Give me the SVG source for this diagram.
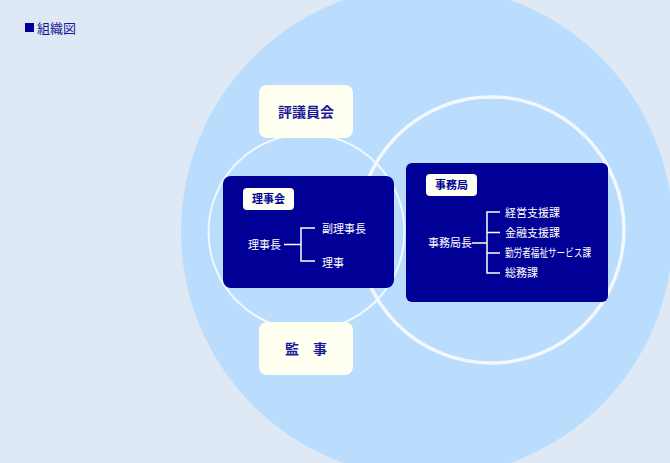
<svg xmlns="http://www.w3.org/2000/svg" width="670" height="463" viewBox="0 0 670 463">
<style>
  text { font-family: "Noto Sans CJK JP", "Noto Sans", sans-serif; }
  .lbl { fill: #ffffff; font-size: 11px; }
  .title { fill: #000099; font-size: 11px; font-weight: bold; }
  .big { fill: #1a1a99; font-size: 14px; font-weight: bold; }
  .pale { fill: #fffff2; }
  .dark { fill: #000096; }
  .conn { stroke: #ffffff; stroke-width: 1.5; fill: none; }
</style>
<rect width="670" height="463" fill="#dee9f5"/>
<circle cx="427" cy="231.5" r="246" fill="#badcfd"/>
<circle cx="491" cy="230" r="133" fill="none" stroke="#f2f8ff" stroke-width="3.5"/>
<circle cx="306.5" cy="232" r="98" fill="none" stroke="#f2f8ff" stroke-width="2"/>

<g id="title">
  <rect x="25" y="23" width="9" height="9" fill="#000099"/>
  <text x="37" y="33" font-size="13" fill="#1a1a99">組織図</text>
</g>

<g id="hyogiinkai">
  <rect class="pale" x="259" y="85" width="94" height="53" rx="8"/>
  <text class="big" x="306" y="117" text-anchor="middle">評議員会</text>
</g>

<g id="kanji">
  <rect class="pale" x="259" y="322" width="94" height="53" rx="8"/>
  <text class="big" x="306" y="354" text-anchor="middle">監　事</text>
</g>

<g id="rijikai">
  <rect class="dark" x="223" y="176" width="171" height="112" rx="8"/>
  <rect class="pale" x="243" y="188" width="51" height="22" rx="4"/>
  <text class="title" x="268.5" y="203" text-anchor="middle">理事会</text>
  <text class="lbl" x="248" y="249">理事長</text>
  <text class="lbl" x="322" y="233">副理事長</text>
  <text class="lbl" x="322" y="267">理事</text>
</g>

<g id="jimukyoku">
  <rect class="dark" x="406" y="163" width="202" height="139" rx="6"/>
  <rect class="pale" x="426" y="174" width="51" height="22" rx="4"/>
  <text class="title" x="451.5" y="189" text-anchor="middle">事務局</text>
  <text class="lbl" x="428" y="247">事務局長</text>
  <text class="lbl" x="505" y="217">経営支援課</text>
  <text class="lbl" x="505" y="237">金融支援課</text>
  <text class="lbl" x="505" y="257" textLength="86" lengthAdjust="spacingAndGlyphs">勤労者福祉サービス課</text>
  <text class="lbl" x="505" y="277">総務課</text>
</g>

<g id="connectors">
  <path class="conn" d="M284 244.5 H301 M315 228 H301 V261 H315"/>
  <path class="conn" d="M472 243 H487 M500 212 H487 V273 H500 M487 232.5 H500 M487 253 H500"/>
</g>
</svg>
